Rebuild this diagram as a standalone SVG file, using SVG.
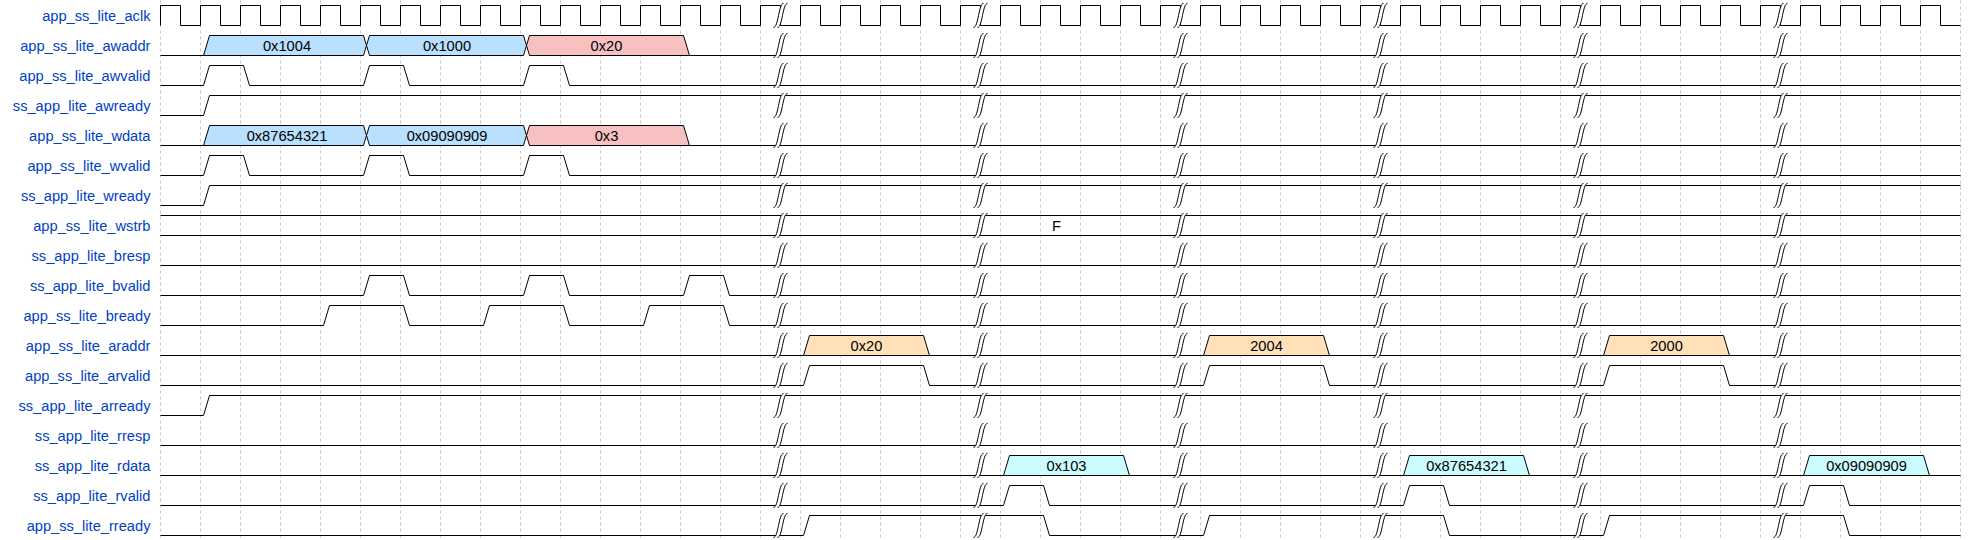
<svg xmlns="http://www.w3.org/2000/svg" width="1980" height="540" viewBox="0 0 1980 540">
<style>
.lbl{font-family:"Liberation Sans",Arial,sans-serif;font-size:14.67px;fill:#0041c4;text-anchor:end}
.dt{font-family:"Liberation Sans",Arial,sans-serif;font-size:14.67px;fill:#000;text-anchor:middle}
.w{fill:none;stroke:#000;stroke-width:1}
.d{stroke:#000;stroke-width:1}
.c5{fill:#b9e0ff}.c9{fill:#f8c1c1}.c4{fill:#ffe0b9}.c6{fill:#ccfdfe}
.grid{fill:none;stroke:#c8c8c8;stroke-width:1;stroke-dasharray:3,3}
</style>
<defs>
<g id="gap"><path d="m7,-2 -4,0 c -5,0 -5,24 -10,24 l 4,0 C 2,22 2,-2 7,-2 z" fill="#fff" stroke="none"/><path d="M-7,22 C -2,22 -2,-2 3,-2" fill="none" stroke="#000"/><path d="m-3,22 c 5,0 5,-24 10,-24" fill="none" stroke="#000"/></g>
<g id="gapcol">
<use href="#gap" y="5"/><use href="#gap" y="35"/><use href="#gap" y="65"/><use href="#gap" y="95"/><use href="#gap" y="125"/><use href="#gap" y="155"/><use href="#gap" y="185"/><use href="#gap" y="215"/><use href="#gap" y="245"/><use href="#gap" y="275"/><use href="#gap" y="305"/><use href="#gap" y="335"/><use href="#gap" y="365"/><use href="#gap" y="395"/><use href="#gap" y="425"/><use href="#gap" y="455"/><use href="#gap" y="485"/><use href="#gap" y="515"/>
</g>
</defs>
<rect width="1980" height="540" fill="#fff"/>
<g transform="translate(0.5,0.5)">
<g id="grid">
<path class="grid" d="M160,0V540M200,0V540M240,0V540M280,0V540M320,0V540M360,0V540M400,0V540M440,0V540M480,0V540M520,0V540M560,0V540M600,0V540M640,0V540M680,0V540M720,0V540M760,0V540M800,0V540M840,0V540M880,0V540M920,0V540M960,0V540M1000,0V540M1040,0V540M1080,0V540M1120,0V540M1160,0V540M1200,0V540M1240,0V540M1280,0V540M1320,0V540M1360,0V540M1400,0V540M1440,0V540M1480,0V540M1520,0V540M1560,0V540M1600,0V540M1640,0V540M1680,0V540M1720,0V540M1760,0V540M1800,0V540M1840,0V540M1880,0V540M1920,0V540M1960,0V540"/>
</g>
<g id="sig-aclk">
<text class="lbl" x="150" y="20.5">app_ss_lite_aclk</text>
<path class="w" d="M160,25
v-20h20v20h20v-20h20v20h20v-20h20v20h20v-20h20v20h20v-20h20v20h20
v-20h20v20h20v-20h20v20h20v-20h20v20h20v-20h20v20h20v-20h20v20h20
v-20h20v20h20v-20h20v20h20v-20h20v20h20v-20h20v20h20v-20h20v20h20
v-20h20v20h20v-20h20v20h20v-20h20v20h20v-20h20v20h20v-20h20v20h20
v-20h20v20h20v-20h20v20h20v-20h20v20h20v-20h20v20h20v-20h20v20h20
v-20h20v20h20v-20h20v20h20v-20h20v20h20v-20h20v20h20v-20h20v20h20
v-20h20v20h20v-20h20v20h20v-20h20v20h20v-20h20v20h20v-20h20v20h20
v-20h20v20h20v-20h20v20h20v-20h20v20h20v-20h20v20h20v-20h20v20h20
v-20h20v20h20v-20h20v20h20v-20h20v20h20v-20h20v20h20v-20h20v20h20"/>
</g>
<g id="sig-awaddr">
<text class="lbl" x="150" y="50.5">app_ss_lite_awaddr</text>
<path class="w" d="M160,55H203M689,55H1960"/>
<polygon class="d c5" points="203,55 209,35 363,35 366,45 363,55"/>
<polygon class="d c5" points="366,45 369,35 523,35 526,45 523,55 369,55"/>
<polygon class="d c9" points="526,45 529,35 683,35 689,55 529,55"/>
<text class="dt" x="286.5" y="50.5">0x1004</text>
<text class="dt" x="446.5" y="50.5">0x1000</text>
<text class="dt" x="606" y="50.5">0x20</text>
</g>
<g id="sig-awvalid">
<text class="lbl" x="150" y="80.5">app_ss_lite_awvalid</text>
<path class="w" d="M160,85H203L209,65H243L249,85H363L369,65H403L409,85H523L529,65H563L569,85H1960"/>
</g>
<g id="sig-awready">
<text class="lbl" x="150" y="110.5">ss_app_lite_awready</text>
<path class="w" d="M160,115H203L209,95H1960"/>
</g>
<g id="sig-wdata">
<text class="lbl" x="150" y="140.5">app_ss_lite_wdata</text>
<path class="w" d="M160,145H203M689,145H1960"/>
<polygon class="d c5" points="203,145 209,125 363,125 366,135 363,145"/>
<polygon class="d c5" points="366,135 369,125 523,125 526,135 523,145 369,145"/>
<polygon class="d c9" points="526,135 529,125 683,125 689,145 529,145"/>
<text class="dt" x="286.5" y="140.5">0x87654321</text>
<text class="dt" x="446.5" y="140.5">0x09090909</text>
<text class="dt" x="606" y="140.5">0x3</text>
</g>
<g id="sig-wvalid">
<text class="lbl" x="150" y="170.5">app_ss_lite_wvalid</text>
<path class="w" d="M160,175H203L209,155H243L249,175H363L369,155H403L409,175H523L529,155H563L569,175H1960"/>
</g>
<g id="sig-wready">
<text class="lbl" x="150" y="200.5">ss_app_lite_wready</text>
<path class="w" d="M160,205H203L209,185H1960"/>
</g>
<g id="sig-wstrb">
<text class="lbl" x="150" y="230.5">app_ss_lite_wstrb</text>
<path class="w" d="M160,215H1960M160,235H1960"/>
<text class="dt" x="1056" y="230.5">F</text>
</g>
<g id="sig-bresp">
<text class="lbl" x="150" y="260.5">ss_app_lite_bresp</text>
<path class="w" d="M160,265H1960"/>
</g>
<g id="sig-bvalid">
<text class="lbl" x="150" y="290.5">ss_app_lite_bvalid</text>
<path class="w" d="M160,295H363L369,275H403L409,295H523L529,275H563L569,295H683L689,275H723L729,295H1960"/>
</g>
<g id="sig-bready">
<text class="lbl" x="150" y="320.5">app_ss_lite_bready</text>
<path class="w" d="M160,325H323L329,305H403L409,325H483L489,305H563L569,325H643L649,305H723L729,325H1960"/>
</g>
<g id="sig-araddr">
<text class="lbl" x="150" y="350.5">app_ss_lite_araddr</text>
<path class="w" d="M160,355H803M929,355H1203M1329,355H1603M1729,355H1960"/>
<polygon class="d c4" points="803,355 809,335 923,335 929,355"/>
<polygon class="d c4" points="1203,355 1209,335 1323,335 1329,355"/>
<polygon class="d c4" points="1603,355 1609,335 1723,335 1729,355"/>
<text class="dt" x="866" y="350.5">0x20</text>
<text class="dt" x="1266" y="350.5">2004</text>
<text class="dt" x="1666" y="350.5">2000</text>
</g>
<g id="sig-arvalid">
<text class="lbl" x="150" y="380.5">app_ss_lite_arvalid</text>
<path class="w" d="M160,385H803L809,365H923L929,385H1203L1209,365H1323L1329,385H1603L1609,365H1723L1729,385H1960"/>
</g>
<g id="sig-arready">
<text class="lbl" x="150" y="410.5">ss_app_lite_arready</text>
<path class="w" d="M160,415H203L209,395H1960"/>
</g>
<g id="sig-rresp">
<text class="lbl" x="150" y="440.5">ss_app_lite_rresp</text>
<path class="w" d="M160,445H1960"/>
</g>
<g id="sig-rdata">
<text class="lbl" x="150" y="470.5">ss_app_lite_rdata</text>
<path class="w" d="M160,475H1003M1129,475H1403M1529,475H1803M1929,475H1960"/>
<polygon class="d c6" points="1003,475 1009,455 1123,455 1129,475"/>
<polygon class="d c6" points="1403,475 1409,455 1523,455 1529,475"/>
<polygon class="d c6" points="1803,475 1809,455 1923,455 1929,475"/>
<text class="dt" x="1066" y="470.5">0x103</text>
<text class="dt" x="1466" y="470.5">0x87654321</text>
<text class="dt" x="1866" y="470.5">0x09090909</text>
</g>
<g id="sig-rvalid">
<text class="lbl" x="150" y="500.5">ss_app_lite_rvalid</text>
<path class="w" d="M160,505H1003L1009,485H1043L1049,505H1403L1409,485H1443L1449,505H1803L1809,485H1843L1849,505H1960"/>
</g>
<g id="sig-rready">
<text class="lbl" x="150" y="530.5">app_ss_lite_rready</text>
<path class="w" d="M160,535H803L809,515H1043L1049,535H1203L1209,515H1443L1449,535H1603L1609,515H1843L1849,535H1960"/>
</g>
<g id="gaps">
<use href="#gapcol" x="780"/><use href="#gapcol" x="980"/><use href="#gapcol" x="1180"/><use href="#gapcol" x="1380"/><use href="#gapcol" x="1580"/><use href="#gapcol" x="1780"/>
</g>
</g>
</svg>
